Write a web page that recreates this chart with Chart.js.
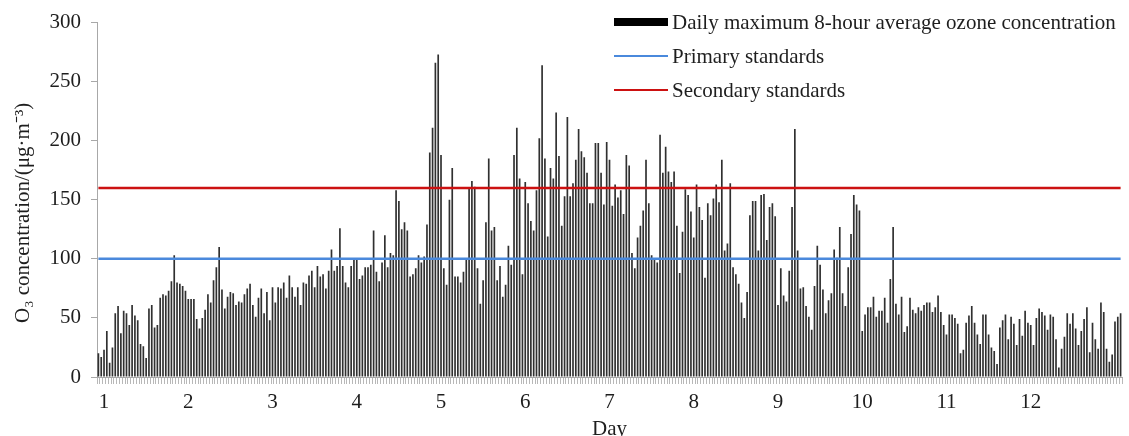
<!DOCTYPE html>
<html>
<head>
<meta charset="utf-8">
<script src="https://cdn.jsdelivr.net/npm/chart.js@4/dist/chart.umd.min.js"></script>
<style>
  html, body { margin: 0; padding: 0; background: #fff; }
</style>
</head>
<body>
<canvas id="chart" width="1129" height="436"></canvas>
<script>
// daily maximum 8-hour average O3, one value per day
const dailyO3 = [
  20,17,23,39,12,25,54,60,37,56,54,44,61,52,48,28,26,16,58,61,42,44,67,70,69,73,81,103,80,79,
  77,73,66,66,66,49,41,50,57,70,63,82,93,110,74,58,68,72,71,61,64,
  63,70,75,79,61,51,67,75,54,72,48,76,63,76,75,80,67,86,76,68,76,61,80,79,86,90,76,94,85,87,
  75,90,108,90,94,126,94,80,76,94,100,100,83,86,93,
  93,95,124,89,81,97,120,93,105,103,158,149,125,131,124,85,87,92,103,97,102,129,190,211,266,273,
  188,92,78,150,177,85,85,80,89,99,160,166,161,92,62,82,131,185,124,127,
  82,94,68,78,111,95,188,211,168,87,165,147,132,124,158,202,264,185,119,177,168,224,187,128,153,
  220,153,164,184,210,191,186,173,147,147,198,198,173,146,199,184,145,163,152,158,138,188,179,105,
  92,118,128,141,184,147,103,100,97,205,173,195,174,165,174,128,88,123,159,154,140,118,163,144,
  133,84,147,137,151,163,148,184,107,113,164,93,87,79,63,50,72,137,149,149,107,154,155,116,
  144,147,136,61,92,69,64,90,144,210,107,75,76,60,51,40,77,111,95,74,54,65,71,108,101,127,71,60,
  93,121,154,146,141,39,53,59,59,68,51,56,56,67,46,83,127,62,53,68,
  38,43,67,57,54,59,56,61,63,63,55,59,69,55,44,36,53,53,50,45,20,23,46,52,60,46,36,28,53,53,36,25,22,11,
  42,48,53,32,51,45,27,49,35,56,46,44,27,50,58,55,52,40,53,51,32,8,24,34,54,45,54,41,27,39,49,59,
  21,46,32,24,63,55,24,13,19,47,51,54
];
const days = dailyO3.map((v, i) => i + 1);
const primaryStandard = 100;
const secondaryStandard = 160;
const monthLabels = ['1','2','3','4','5','6','7','8','9','10','11','12'];
const labelFirst = 2;    // category index of the first month label
const labelEvery = 30;   // one month label every 30 days
const yMin = 0, yMax = 300, yStep = 50;

const serif = '"Liberation Serif", "Times New Roman", serif';
const fontSize = 21;
const textColor = '#1e1e1e';
const axisColor = '#a8a8a8';

// legend drawn inside the plot, top right, like the original
const cornerLegend = {
  id: 'cornerLegend',
  afterDraw(chart, args, opts) {
    const ctx = chart.ctx;
    ctx.save();
    ctx.font = fontSize + 'px ' + serif;
    ctx.textBaseline = 'middle';
    chart.data.datasets.forEach((ds, i) => {
      const y = opts.rows[i];
      if (ds.type === 'line') {
        ctx.strokeStyle = ds.borderColor;
        ctx.lineWidth = 2;
        ctx.beginPath();
        ctx.moveTo(opts.keyLeft, y);
        ctx.lineTo(opts.keyRight, y);
        ctx.stroke();
      } else {
        ctx.fillStyle = '#000';
        ctx.fillRect(opts.keyLeft, y - 4, opts.keyRight - opts.keyLeft, 8);
      }
      ctx.fillStyle = textColor;
      ctx.fillText(ds.label, opts.textX, y + 1);
    });
    ctx.restore();
  }
};

new Chart(document.getElementById('chart'), {
  type: 'bar',
  data: {
    labels: days,
    datasets: [
      {
        label: 'Daily maximum 8-hour average ozone concentration',
        data: dailyO3,
        backgroundColor: '#303030',
        barPercentage: 0.6,
        categoryPercentage: 1,
        order: 2
      },
      {
        type: 'line',
        label: 'Primary standards',
        data: days.map(() => primaryStandard),
        borderColor: '#4a89dc',
        borderWidth: 2.5,
        pointRadius: 0,
        order: 1
      },
      {
        type: 'line',
        label: 'Secondary standards',
        data: days.map(() => secondaryStandard),
        borderColor: '#cc1111',
        borderWidth: 2.5,
        pointRadius: 0,
        order: 0
      }
    ]
  },
  options: {
    responsive: false,
    animation: false,
    layout: { padding: { top: 20, right: 7, bottom: 0, left: 0 } },
    plugins: {
      legend: { display: false },
      tooltip: { enabled: false },
      cornerLegend: { keyLeft: 614, keyRight: 668, textX: 672, rows: [22, 56, 90] }
    },
    scales: {
      x: {
        grid: { drawOnChartArea: false, drawTicks: true, tickLength: 7, color: '#b8b8b8' },
        border: { color: axisColor },
        ticks: {
          autoSkip: false, maxRotation: 0, minRotation: 0, padding: 6,
          color: textColor, font: { family: serif, size: fontSize },
          callback: (v, i) => {
            if (i < labelFirst || (i - labelFirst) % labelEvery) return '';
            return monthLabels[(i - labelFirst) / labelEvery] || '';
          }
        },
        title: {
          display: true, text: 'Day', color: textColor, padding: 0,
          font: { family: serif, size: fontSize, lineHeight: 0.6 }
        },
        afterFit: s => { s.height = 59; }
      },
      y: {
        min: yMin, max: yMax,
        grid: { drawOnChartArea: false, drawTicks: true, tickLength: 6, color: axisColor },
        border: { color: axisColor },
        ticks: { stepSize: yStep, padding: 10, color: textColor, font: { family: serif, size: fontSize } },
        title: {
          display: true, text: 'O\u2083 concentration/(\u03bcg\u00b7m\u207b\u00b3)     ',
          color: textColor, padding: { top: 11, bottom: 0 },
          font: { family: serif, size: fontSize }
        },
        afterFit: s => { s.width = 97; }
      }
    }
  },
  plugins: [cornerLegend]
});
</script>
</body>
</html>
